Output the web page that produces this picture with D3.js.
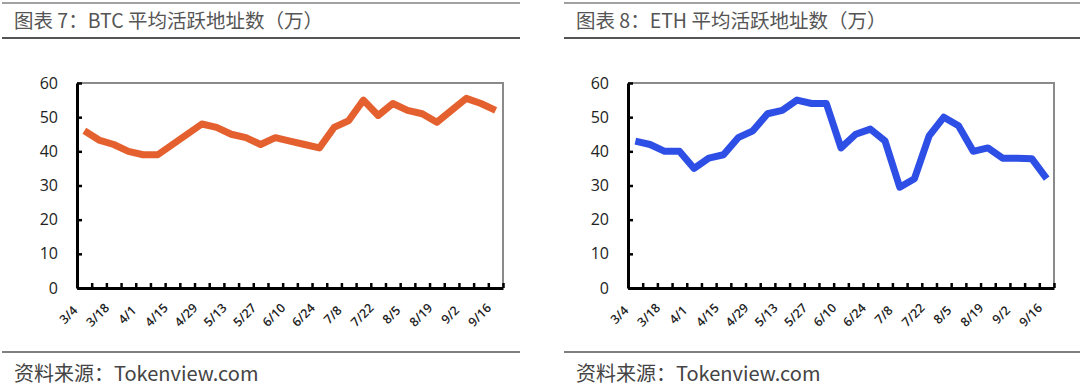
<!DOCTYPE html>
<html>
<head>
<meta charset="utf-8">
<script src="https://cdn.jsdelivr.net/npm/d3@7"></script>
<style>
  body { margin: 0; background: #fff; }
  svg { display: block; }
  .num { font-family: "Open Sans", "Noto Sans", sans-serif; }
  .cjk { font-family: "Noto Sans CJK SC", sans-serif; }
</style>
</head>
<body>
<svg id="chart" width="1080" height="391"></svg>
<script>
// weekly dates, every other one is labelled
var dates = ["3/4", "3/11", "3/18", "3/25", "4/1", "4/8", "4/15", "4/22", "4/29", "5/6",
  "5/13", "5/20", "5/27", "6/3", "6/10", "6/17", "6/24", "7/1", "7/8", "7/15",
  "7/22", "7/29", "8/5", "8/12", "8/19", "8/26", "9/2", "9/9", "9/16"];

var btcValues = [46, 43.3, 42, 40, 39, 39, 42, 45, 48, 47, 45, 44, 42, 44, 43, 42, 41,
  47, 49, 55, 50.5, 54, 52, 51, 48.5, 52, 55.5, 54, 52];

var ethValues = [43, 42, 40, 40, 35, 38, 39, 44, 46, 51, 52, 55, 54, 54, 41, 45, 46.5,
  43, 29.5, 32, 44.5, 50, 47.5, 40, 41, 38, 38, 37.8, 32];

var yTicks = [0, 10, 20, 30, 40, 50, 60];

var titles = ["图表 7：BTC 平均活跃地址数（万）", "图表 8：ETH 平均活跃地址数（万）"];
var sourceText = "资料来源：Tokenview.com";

var svg = d3.select("#chart");

function panel(ox, plotLeft, values, color, title) {
  var margin = {top: 83, left: plotLeft},
      width = 426,
      height = 205;

  var p = svg.append("g").attr("transform", "translate(" + ox + ",0)");

  // header and footer rules
  p.append("line").attr("x1", 2).attr("x2", 520).attr("y1", 3).attr("y2", 3)
    .attr("stroke", "#444").attr("stroke-width", 1.2);
  p.append("line").attr("x1", 2).attr("x2", 520).attr("y1", 38).attr("y2", 38)
    .attr("stroke", "#555").attr("stroke-width", 2);
  p.append("line").attr("x1", 2).attr("x2", 520).attr("y1", 352).attr("y2", 352)
    .attr("stroke", "#555").attr("stroke-width", 1.5);

  p.append("text").attr("class", "cjk")
    .attr("x", 14).attr("y", 28)
    .style("font-size", "19.5px").attr("fill", "#555")
    .text(title);

  p.append("text").attr("class", "cjk")
    .attr("x", 14).attr("y", 381)
    .style("font-size", "20px").attr("fill", "#444")
    .text(sourceText);

  var g = p.append("g").attr("transform", "translate(" + margin.left + "," + margin.top + ")");

  var x = d3.scaleBand().domain(dates).range([0, width]).padding(0);
  var xEdge = d3.scaleLinear().domain([0, dates.length]).range([0, width]);
  var y = d3.scaleLinear().domain([0, 60]).range([height, 0]);

  // top and right frame
  g.append("path")
    .attr("d", "M0," + y(60) + "H" + width + "V" + height)
    .attr("fill", "none").attr("stroke", "#8a8a8a").attr("stroke-width", 2);

  // y axis, ticks pointing inward
  var yAxis = g.append("g")
    .call(d3.axisLeft(y).tickValues(yTicks).tickSizeInner(-5).tickSizeOuter(0).tickPadding(19));
  yAxis.select(".domain").attr("stroke", "#000").attr("stroke-width", 3);
  yAxis.selectAll(".tick line").attr("stroke", "#000").attr("stroke-width", 2.5);
  yAxis.selectAll(".tick text").attr("class", "num")
    .style("font-size", "16px").attr("fill", "#222");

  // x axis, ticks between categories
  var xAxis = g.append("g")
    .attr("transform", "translate(0," + height + ")")
    .call(d3.axisBottom(xEdge).tickValues(d3.range(0, dates.length + 1))
      .tickSizeInner(-5).tickSizeOuter(0).tickFormat(""));
  xAxis.select(".domain").attr("stroke", "#000").attr("stroke-width", 3);
  xAxis.selectAll(".tick line").attr("stroke", "#000").attr("stroke-width", 2.5);

  // rotated labels, every other week
  g.append("g").selectAll("text")
    .data(dates.filter(function (d, i) { return i % 2 === 0; }))
    .enter().append("text")
    .attr("class", "num")
    .attr("text-anchor", "middle")
    .attr("transform", function (d) {
      var cx = x(d) + x.bandwidth() / 2 - 16;
      return "translate(" + cx + "," + (height + 27) + ") rotate(-45)";
    })
    .attr("dy", "0.35em")
    .style("font-size", "12.5px")
    .style("font-weight", "600")
    .attr("fill", "#222")
    .text(function (d) { return d; });

  var line = d3.line()
    .x(function (d, i) { return x(dates[i]) + x.bandwidth() / 2; })
    .y(function (d) { return y(d); });

  g.append("path")
    .datum(values)
    .attr("d", line)
    .attr("fill", "none")
    .attr("stroke", color)
    .attr("stroke-width", 7)
    .attr("stroke-linejoin", "round")
    .attr("stroke-linecap", "butt");
}

panel(0, 77, btcValues, "#e4612f", titles[0]);
panel(562, 66, ethValues, "#2e4fe6", titles[1]);
</script>
</body>
</html>
